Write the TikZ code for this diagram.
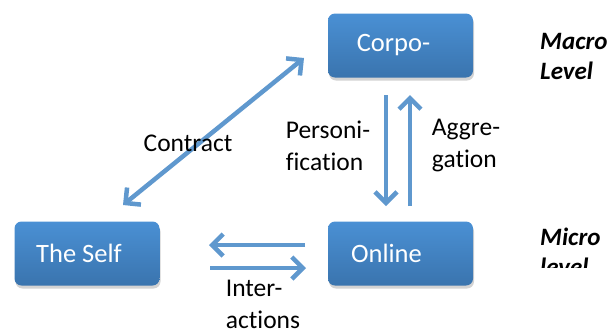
\documentclass[tikz,border=0pt]{standalone}
\usepackage{fontspec}
\setmainfont{Carlito}[Ligatures={NoCommon}]
\usetikzlibrary{arrows.meta,shadows}
\definecolor{boxtop}{HTML}{4A90D4}
\definecolor{boxbot}{HTML}{3A74AE}
\definecolor{arrowblue}{HTML}{5F98CE}
\tikzset{
  entity/.style={rounded corners=7pt, minimum width=145pt, minimum height=64pt,
    top color=boxtop, bottom color=boxbot, draw=none,
    drop shadow={shadow xshift=1pt, shadow yshift=-3pt, opacity=0.35},
    text=white, font=\fontsize{26.5}{30}\selectfont},
  flow/.style={draw=arrowblue, line width=4.5pt,
    -{Straight Barb[length=11pt,width=22pt,line width=4.5pt]}},
  both/.style={draw=arrowblue, line width=4.5pt,
    {Straight Barb[length=11pt,width=22pt,line width=4.5pt]}-{Straight Barb[length=11pt,width=22pt,line width=4.5pt]}},
  lbl/.style={font=\fontsize{25.5}{32}\selectfont, align=left},
  level/.style={font=\fontsize{25}{30}\selectfont\bfseries\itshape, align=left, anchor=north west, inner sep=0pt}
}
\begin{document}
\begin{tikzpicture}[x=1pt,y=-1pt]
\useasboundingbox (0,0) rectangle (613,333);

% the three boxes
\node[entity] (corp) at (400.5,45.5) {\hspace*{-14pt}Corpo-};
\node[entity] (online) at (400.5,253.5) {\hspace*{-28pt}Online};
\node[entity] (self) at (87,253.5) {\hspace*{-16pt}The Self};

% connector end points
\coordinate (cA) at (123,205);
\coordinate (cB) at (304,58);
\coordinate (pTop) at (386,95);
\coordinate (pBot) at (386,206);
\coordinate (aBot) at (410,206);
\coordinate (aTop) at (410,95);
\coordinate (iR1) at (305,245);
\coordinate (iL1) at (209,245);
\coordinate (iL2) at (210,268);
\coordinate (iR2) at (306,268);

% connectors
\draw[both] (cA) -- (cB);
\draw[flow] (pTop) -- (pBot);
\draw[flow] (aBot) -- (aTop);
\draw[flow] (iR1) -- (iL1);
\draw[flow] (iL2) -- (iR2);

% connector labels
\node[lbl] (contract) at (188,143) {Contract};
\node[lbl] (perso) at (328,146) {Personi-\\fication};
\node[lbl] (aggr) at (466,146) {Aggre-\\gation};
\node[lbl] (inter) at (263,304) {Inter-\\actions};

% level labels
\node[level] (macro) at (540,33) {Macro\\Level};
\begin{scope}
\clip (500,200) rectangle (613,267);
\node[level] (micro) at (540,228) {Micro\\level};
\end{scope}
\end{tikzpicture}
\end{document}
